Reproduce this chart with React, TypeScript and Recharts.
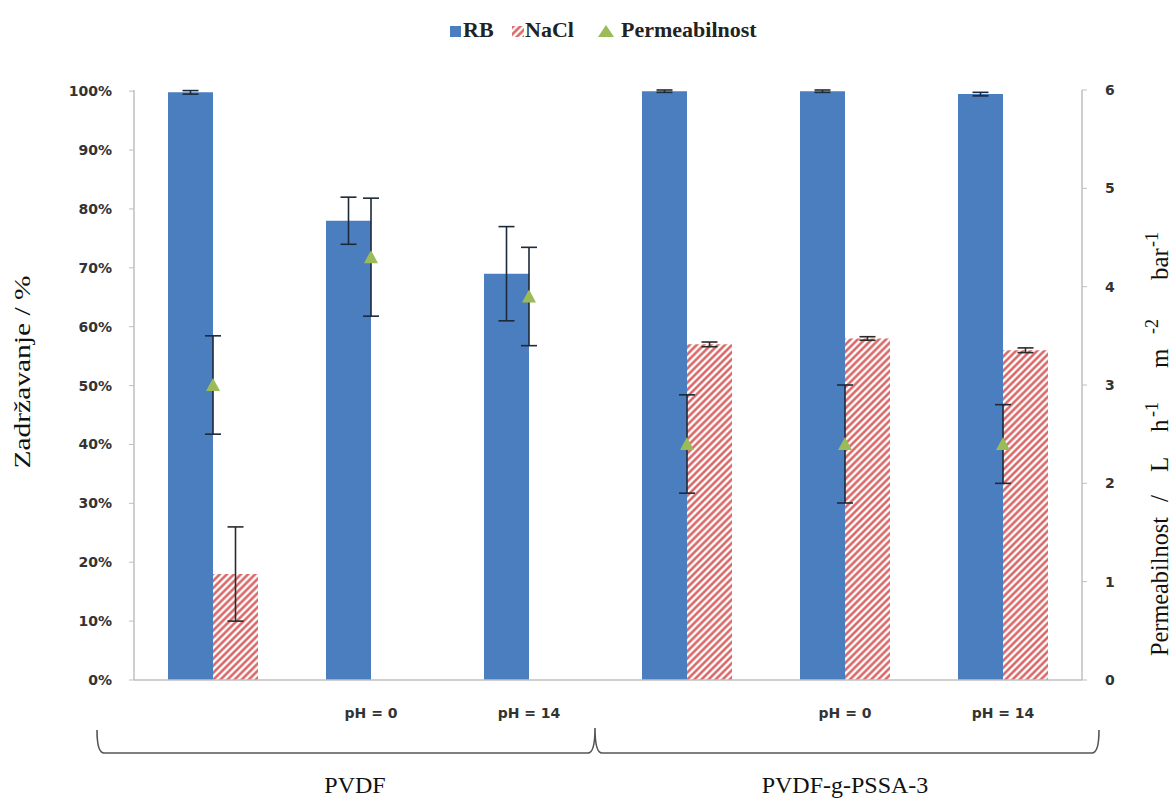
import React from 'react';
import { ComposedChart, Bar, Line, XAxis, YAxis, ErrorBar } from 'recharts';

const categories = ['PVDF', 'PVDF pH0', 'PVDF pH14', 'PSSA', 'PSSA pH0', 'PSSA pH14'];
const tickLabels = ['', 'pH = 0', 'pH = 14', '', 'pH = 0', 'pH = 14'];
const rbValues = [99.8, 78, 69, 100, 100, 99.5];
const rbErrors = [0.3, 4, 8, 0.2, 0.2, 0.3];
const naclValues: (number | null)[] = [18, null, null, 57, 58, 56];
const naclErrors: (number | null)[] = [8, null, null, 0.4, 0.3, 0.4];
const permValues = [3.0, 4.3, 3.9, 2.4, 2.4, 2.4];
const permErrors = [0.5, 0.6, 0.5, 0.5, 0.6, 0.4];
const leftTicks = [0, 10, 20, 30, 40, 50, 60, 70, 80, 90, 100];
const rightTicks = [0, 1, 2, 3, 4, 5, 6];
const groupLabels = ['PVDF', 'PVDF-g-PSSA-3'];
const legendLabels = ['RB', 'NaCl', 'Permeabilnost'];

const data = categories.map((c, i) => ({
  cat: c,
  rb: rbValues[i],
  rbErr: rbErrors[i],
  nacl: naclValues[i],
  naclErr: naclErrors[i],
  perm: permValues[i],
  permErr: permErrors[i],
}));

const BLUE = '#4a7ebf';
const GREEN = '#9bbb59';
const HATCH = '#d65c5c';
const AXIS = '#bfbfbf';
const TICKFONT = 'DejaVu Sans, Verdana, sans-serif';
const SERIF = '"Liberation Serif", "Times New Roman", serif';

const Triangle = (props: any) => {
  const { cx, cy, index } = props;
  if (cx == null || cy == null) return <g key={index} />;
  return (
    <path
      key={index}
      d={`M${cx},${cy - 7} L${cx + 7},${cy + 6} L${cx - 7},${cy + 6} Z`}
      fill={GREEN}
    />
  );
};

const XTick = (props: any) => {
  const { x, y, index } = props;
  return (
    <text
      x={x}
      y={y + 30}
      textAnchor="middle"
      fontFamily={TICKFONT}
      fontWeight="bold"
      fontSize={14}
      fill="#333"
    >
      {tickLabels[index]}
    </text>
  );
};

export default function App() {
  return (
    <div style={{ position: 'absolute', left: 0, top: 0, width: 1173, height: 799, background: '#fff' }}>
      <ComposedChart
        width={1173}
        height={799}
        data={data}
        margin={{ top: 90, right: 0, left: 0, bottom: 89 }}
        barGap={0}
      >
        <XAxis
          dataKey="cat"
          height={30}
          axisLine={{ stroke: AXIS, strokeWidth: 1.5 }}
          tickLine={false}
          tick={<XTick />}
          interval={0}
        />
        <YAxis
          yAxisId="left"
          orientation="left"
          width={134}
          domain={[0, 100]}
          ticks={leftTicks}
          tickFormatter={(v: number) => `${v}%`}
          axisLine={{ stroke: AXIS, strokeWidth: 1.5 }}
          tickLine={{ stroke: AXIS }}
          tickSize={5}
          tickMargin={17}
          tick={{ fontFamily: TICKFONT, fontWeight: 'bold', fontSize: 14, fill: '#333' }}
        />
        <YAxis
          yAxisId="right"
          orientation="right"
          width={91}
          domain={[0, 6]}
          ticks={rightTicks}
          axisLine={{ stroke: AXIS, strokeWidth: 1.5 }}
          tickLine={{ stroke: AXIS }}
          tickSize={5}
          tickMargin={18}
          tick={{ fontFamily: TICKFONT, fontWeight: 'bold', fontSize: 14, fill: '#333' }}
        />
        <Bar dataKey="rb" yAxisId="left" barSize={45} fill={BLUE} isAnimationActive={false}>
          <ErrorBar dataKey="rbErr" width={8} stroke="#1c2a3a" strokeWidth={1.6} direction="y" />
        </Bar>
        <Bar dataKey="nacl" yAxisId="left" barSize={45} fill="url(#naclHatch)" isAnimationActive={false}>
          <ErrorBar dataKey="naclErr" width={8} stroke="#2a2a2a" strokeWidth={1.6} direction="y" />
        </Bar>
        <Line
          dataKey="perm"
          yAxisId="right"
          stroke="none"
          dot={<Triangle />}
          activeDot={false}
          isAnimationActive={false}
        >
          <ErrorBar dataKey="permErr" width={8} stroke="#1c2a3a" strokeWidth={1.6} direction="y" />
        </Line>
      </ComposedChart>
      <svg
        width={1173}
        height={799}
        style={{ position: 'absolute', left: 0, top: 0, pointerEvents: 'none' }}
      >
        <defs>
          <pattern id="naclHatch" patternUnits="userSpaceOnUse" width={5} height={5} patternTransform="rotate(45)">
            <rect width={5} height={5} fill="#fff" />
            <line x1={1.5} y1={0} x2={1.5} y2={5} stroke={HATCH} strokeWidth={2.4} />
          </pattern>
        </defs>
        {/* legend */}
        <rect x={450} y={26} width={11} height={11} fill={BLUE} />
        <text x={463} y={37} fontFamily={SERIF} fontWeight="bold" fontSize={22} fill="#222">{legendLabels[0]}</text>
        <rect x={512} y={26} width={12} height={11} fill="url(#naclHatch)" />
        <text x={525} y={37} fontFamily={SERIF} fontWeight="bold" fontSize={22} fill="#222">{legendLabels[1]}</text>
        <path d="M606,25 L614,37 L598,37 Z" fill={GREEN} />
        <text x={621} y={37} fontFamily={SERIF} fontWeight="bold" fontSize={22} fill="#222">{legendLabels[2]}</text>
        {/* left title */}
        <text
          transform="translate(30,372) rotate(-90)"
          textAnchor="middle"
          fontFamily={SERIF}
          fontSize={24}
          fill="#111"
          textLength={193}
          lengthAdjust="spacingAndGlyphs"
        >
          Zadržavanje / %
        </text>
        {/* right title */}
        <text transform="translate(1168,656) rotate(-90)" fontFamily={SERIF} fontSize={25} fill="#111">
          <tspan x={0} textLength={139} lengthAdjust="spacingAndGlyphs">Permeabilnost</tspan>
          <tspan x={154}>/</tspan>
          <tspan x={184}>L</tspan>
          <tspan x={224}>h</tspan>
          <tspan x={239} dy={-10} fontSize={18}>-1</tspan>
          <tspan x={288} dy={10}>m</tspan>
          <tspan x={322} dy={-10} fontSize={18}>-2</tspan>
          <tspan x={376} dy={10}>bar</tspan>
          <tspan x={409} dy={-10} fontSize={18}>-1</tspan>
        </text>
        {/* bracket */}
        <path
          d="M97,730 Q97,753 104,753 L588,753 Q595,753 595,728 Q595,753 602,753 L1092,753 Q1099,753 1099,730"
          fill="none"
          stroke="#555"
          strokeWidth={1.6}
        />
        <text x={355} y={793} textAnchor="middle" fontFamily={SERIF} fontSize={24} fill="#111">{groupLabels[0]}</text>
        <text x={845} y={793} textAnchor="middle" fontFamily={SERIF} fontSize={24} fill="#111">{groupLabels[1]}</text>
      </svg>
    </div>
  );
}
